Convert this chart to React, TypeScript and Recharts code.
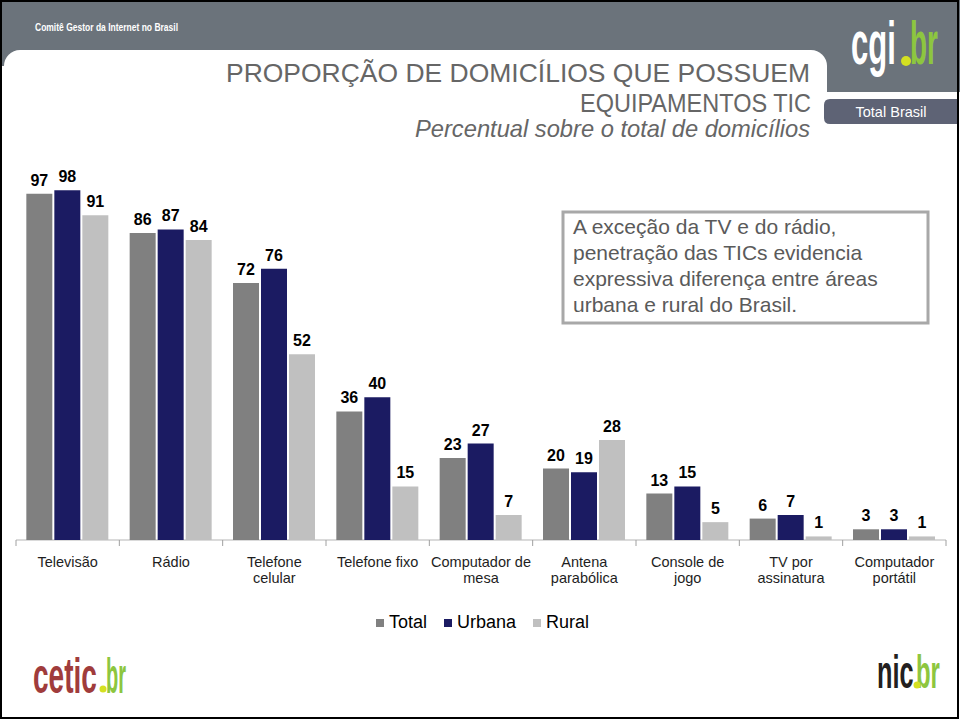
import React from 'react';
import { BarChart, Bar, XAxis, YAxis, LabelList } from 'recharts';

// Categories (line breaks as in the original labels)
const categories = [
    'Televisão',
    'Rádio',
    'Telefone\ncelular',
    'Telefone fixo',
    'Computador de\nmesa',
    'Antena\nparabólica',
    'Console de\njogo',
    'TV por\nassinatura',
    'Computador\nportátil',
];

const total = [97, 86, 72, 36, 23, 20, 13, 6, 3];
const urbana = [98, 87, 76, 40, 27, 19, 15, 7, 3];
const rural = [91, 84, 52, 15, 7, 28, 5, 1, 1];

const seriesKeys = ['total', 'urbana', 'rural'];
const seriesNames = ['Total', 'Urbana', 'Rural'];
const seriesColors = ['#808080', '#1b1b62', '#c0c0c0'];

const noteLines = [
    'A exceção da TV e do rádio,',
    'penetração das TICs evidencia',
    'expressiva diferença entre áreas',
    'urbana e rural do Brasil.',
];

const rows = categories.map((name, i) => ({
    name,
    total: total[i],
    urbana: urbana[i],
    rural: rural[i],
}));

// category boundaries for the tick marks (0..n)
const boundaries = [...categories.map((_, i) => i), categories.length];
const boundaryRows = boundaries.map((b) => ({ b }));

const FONT = '"Liberation Sans", Arial, Helvetica, sans-serif';
const HEADER_GRAY = '#6b737b';
const GREEN = '#8dc63f';
const DOT = '#d4e021';

const CategoryTick = (props: any) => {
    const { x, y, payload } = props;
    const lines = String(payload.value).split('\n');
    return (
        <text x={x} y={y} textAnchor="middle" fontFamily={FONT} fontSize={14.5} fill="#1e1e1e">
            {lines.map((l, i) => (
                <tspan key={i} x={x} dy={i === 0 ? 27 : 16}>{l}</tspan>
            ))}
        </text>
    );
};

// condensed logo word: scaled horizontally so it keeps a true bounding box
const LogoWord = ({ x, y, size, sx, fill, children }: any) => (
    <text transform={`translate(${x},${y}) scale(${sx},1)`} fill={fill} fontFamily={FONT}
        fontWeight="bold" fontSize={size}>{children}</text>
);

const Decorations = () => (
    <svg width={960} height={720} style={{ position: 'absolute', left: 0, top: 0 }}>
        {/* header band */}
        <rect x={0} y={0} width={960} height={92} fill={HEADER_GRAY} />
        <rect x={4} y={50} width={823} height={150} rx={16} fill="#fff" />
        <rect x={0} y={92} width={960} height={628} fill="#fff" />
        <rect x={0} y={66} width={4} height={30} fill="#fff" />

        <text x={35} y={31} fill="#fff" fontFamily={FONT} fontWeight="bold" fontSize={11}
            textLength={143} lengthAdjust="spacingAndGlyphs">Comitê Gestor da Internet no Brasil</text>

        {/* cgi.br logo */}
        <LogoWord x={851} y={64} size={62} sx={0.5} fill="#fff">cgi</LogoWord>
        <LogoWord x={910} y={64} size={62} sx={0.45} fill={GREEN}>br</LogoWord>
        <circle cx={906} cy={61} r={5} fill={DOT} />

        {/* Total Brasil tab */}
        <path d="M830 99 H958 V124 H830 Q824 124 824 118 V105 Q824 99 830 99 Z" fill="#5e6375" />
        <text x={891} y={117} textAnchor="middle" fill="#fff" fontFamily={FONT} fontSize={15}
            textLength={71} lengthAdjust="spacingAndGlyphs">Total Brasil</text>

        {/* titles */}
        <text x={810} y={82} textAnchor="end" fill="#666" fontFamily={FONT} fontSize={25.5}
            textLength={584} lengthAdjust="spacingAndGlyphs">PROPORÇÃO DE DOMICÍLIOS QUE POSSUEM</text>
        <text x={811} y={112} textAnchor="end" fill="#666" fontFamily={FONT} fontSize={25.5}
            textLength={231} lengthAdjust="spacingAndGlyphs">EQUIPAMENTOS TIC</text>
        <text x={810} y={137} textAnchor="end" fill="#666" fontFamily={FONT} fontStyle="italic" fontSize={24}
            textLength={395} lengthAdjust="spacingAndGlyphs">Percentual sobre o total de domicílios</text>

        {/* note box */}
        <rect x={563} y={212} width={365} height={111} fill="#fff" stroke="#a8a8a8" strokeWidth={3} />
        {noteLines.map((l, i) => (
            <text key={i} x={573} y={234 + i * 26} fill="#5a5a5a" fontFamily={FONT} fontSize={21}>{l}</text>
        ))}

        {/* cetic.br logo */}
        <LogoWord x={33} y={693} size={50} sx={0.56} fill="#a03c3c">cetic</LogoWord>
        <LogoWord x={106} y={693} size={50} sx={0.4} fill={GREEN}>br</LogoWord>
        <circle cx={103} cy={689} r={3.5} fill={DOT} />

        {/* nic.br logo */}
        <LogoWord x={877} y={688} size={46} sx={0.55} fill="#231f20">nic</LogoWord>
        <LogoWord x={916} y={688} size={46} sx={0.52} fill={GREEN}>br</LogoWord>
        <circle cx={917} cy={685} r={3.5} fill={DOT} />

        {/* outer frame */}
        <rect x={1} y={1} width={957} height={717} fill="none" stroke="#000" strokeWidth={2} />
    </svg>
);

const Legend = () => (
    <div style={{ position: 'absolute', left: 376, top: 612, display: 'flex', alignItems: 'center', fontFamily: FONT, fontSize: 18, color: '#000' }}>
        {seriesNames.map((n, i) => (
            <div key={n} style={{ display: 'flex', alignItems: 'center', marginRight: 17 }}>
                <span style={{ width: 8, height: 8, background: seriesColors[i], display: 'inline-block', marginRight: 5 }} />
                <span>{n}</span>
            </div>
        ))}
    </div>
);

const CHART_MARGIN = { top: 183, right: 14, bottom: 140, left: 16 };

const App: React.FC = () => (
    <div style={{ position: 'absolute', left: 0, top: 0, width: 960, height: 720, background: '#fff' }}>
        <Decorations />
        {/* boundary ticks + axis line, same plot box as the bar chart */}
        <div style={{ position: 'absolute', left: 0, top: 0 }}>
            <BarChart width={960} height={720} data={boundaryRows} margin={CHART_MARGIN}>
                <YAxis hide domain={[0, 100]} />
                <XAxis
                    dataKey="b"
                    type="number"
                    domain={[0, categories.length]}
                    allowDataOverflow
                    ticks={boundaries}
                    interval={0}
                    height={40}
                    tickSize={6}
                    tickFormatter={() => ''}
                    axisLine={{ stroke: '#b5b5b5' }}
                    tickLine={{ stroke: '#a0a0a0' }}
                />
            </BarChart>
        </div>
        <div style={{ position: 'absolute', left: 0, top: 0 }}>
            <BarChart
                width={960}
                height={720}
                data={rows}
                margin={CHART_MARGIN}
                barCategoryGap="10%"
                barGap={2}
            >
                <YAxis hide domain={[0, 100]} />
                <XAxis
                    dataKey="name"
                    height={40}
                    axisLine={false}
                    tickLine={false}
                    tickSize={0}
                    tickMargin={0}
                    interval={0}
                    tick={<CategoryTick />}
                />
                {seriesKeys.map((k, i) => (
                    <Bar key={k} dataKey={k} name={seriesNames[i]} fill={seriesColors[i]} isAnimationActive={false}>
                        <LabelList dataKey={k} position="top" offset={8} fill="#000" fontSize={16} fontWeight="bold" fontFamily={FONT} />
                    </Bar>
                ))}
            </BarChart>
        </div>
        <Legend />
    </div>
);

export default App;
